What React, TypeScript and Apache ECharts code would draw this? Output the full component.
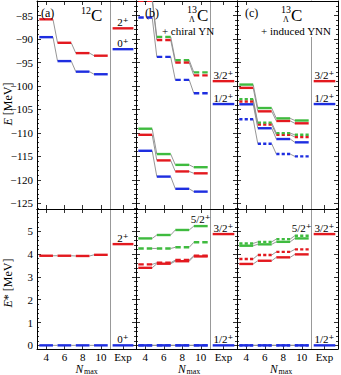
import { useEffect, useRef } from 'react';
import * as echarts from 'echarts';

// ---------- data ----------
const NMAX = [4, 6, 8, 10];
const E_TICKS = [-125, -120, -115, -110, -105, -100, -95, -90, -85];
const EX_TICKS = [0, 1, 2, 3, 4, 5];
const EXP_TICK = [0.5];

// (a) 12C
const A_GS = [-89.6, -94.7, -96.95, -97.5];
const A_2P = [-85.8, -90.8, -93.0, -93.55];
const A_EX_GS = [0, 0, 0, 0];
const A_EX_2P = [3.93, 3.93, 3.92, 3.97];
const EXP12_E = [-92.16, -87.72];
const EXP12_EX = [0, 4.44];
const EXP12_LABELS = ['0⁺', '2⁺'];

// (b) 13ΛC + chiral YN
const B_SOLID_12 = [-113.8, -119.3, -121.9, -122.5];
const B_SOLID_32 = [-110.4, -115.85, -118.2, -118.6];
const B_SOLID_52 = [-109.1, -114.5, -116.8, -117.3];
const B_DASH_12 = [-85.4, -93.8, -98.7, -101.55];
const B_DASH_32 = [-81.85, -90.2, -95.0, -97.75];
const B_DASH_52 = [-81.15, -89.55, -94.5, -97.1];
const B_EX_12 = [0, 0, 0, 0];
const B_EX_SOLID_32 = [3.4, 3.58, 3.69, 3.9];
const B_EX_DASH_32 = [3.55, 3.62, 3.74, 3.93];
const B_EX_SOLID_52 = [4.69, 4.84, 5.06, 5.23];
const B_EX_DASH_52 = [4.25, 4.25, 4.3, 4.52];

// (c) 13ΛC + induced YNN
const C_SOLID_12 = [-103.9, -109.0, -111.3, -112.0];
const C_SOLID_32 = [-100.4, -105.4, -107.45, -107.95];
const C_SOLID_52 = [-99.7, -104.7, -106.9, -107.35];
const C_DOT_12 = [-107.1, -112.3, -114.5, -115.0];
const C_DOT_32 = [-103.3, -108.2, -110.4, -110.85];
const C_DOT_52 = [-102.8, -107.8, -110.05, -110.4];
const C_EX_12 = [0, 0, 0, 0];
const C_EX_SOLID_32 = [3.57, 3.71, 3.86, 3.99];
const C_EX_DOT_32 = [3.79, 3.96, 4.1, 4.21];
const C_EX_SOLID_52 = [4.37, 4.43, 4.54, 4.69];
const C_EX_DOT_52 = [4.47, 4.54, 4.66, 4.81];

const EXP13_E = [-103.85, -98.97];
const EXP13_EX = [0, 4.88];
const EXP13_LABELS = ['1/2⁺', '3/2⁺'];
const LABEL_52 = '5/2⁺';

// ---------- style ----------
const SERIF = '"Liberation Serif", "DejaVu Serif", serif';
const RED = '#e3191f';
const BLUE = '#1e2ee0';
const GREEN = '#3fbb3f';
const CONN = '#8a8a8a';
const DIV = '#999999';
const BAR_W = 2.4;

const COLS = [
  { dl: 37, dw: 73, el: 110, ew: 26 },
  { dl: 136, dw: 74, el: 210, ew: 27 },
  { dl: 237, dw: 74, el: 311, ew: 27 },
];
const ROWS = [
  { top: 1, height: 208, min: -126.2, max: -81.9 },
  { top: 209, height: 140, min: -0.16, max: 5.98 },
];

function minorTicks(r: number): number[] {
  const out: number[] = [];
  if (r === 0) {
    for (let v = -126; v <= -82; v++) if (v % 5 !== 0) out.push(v);
  } else {
    for (let k = 1; k < 30; k++) if (k % 5 !== 0) out.push(Math.round(k * 0.2 * 100) / 100);
  }
  return out;
}

const fmtNum = (v: number) => (v < 0 ? '−' + Math.abs(v) : String(v));

function xAxisDef(gridIndex: number, position: string, min: number, max: number, ticks: number[], fmt: any) {
  return {
    type: 'value', gridIndex, position, min, max,
    axisLine: { show: true, onZero: false, lineStyle: { color: '#000', width: 1 } },
    axisTick: { show: true, inside: true, length: 4, customValues: ticks, lineStyle: { color: '#000', width: 0.8 } },
    axisLabel: fmt
      ? { show: true, customValues: ticks, formatter: fmt, margin: 2, color: '#000', fontFamily: SERIF, fontSize: 11 }
      : { show: false },
    splitLine: { show: false },
  };
}

function yAxisDef(gridIndex: number, position: string, row: any, opts: any) {
  return {
    type: 'value', gridIndex, position, min: row.min, max: row.max,
    axisLine: opts.line ? { show: true, onZero: false, lineStyle: { color: opts.line, width: 1 } } : { show: false, onZero: false },
    axisTick: opts.ticks
      ? { show: true, inside: true, length: opts.len, customValues: opts.ticks, lineStyle: { color: '#000', width: 0.8 } }
      : { show: false },
    axisLabel: opts.labels
      ? { show: true, customValues: opts.labels, formatter: fmtNum, margin: 4, color: '#000', fontFamily: SERIF, fontSize: 11 }
      : { show: false },
    splitLine: { show: false },
  };
}

function levelSeries(ref: any, ys: number[], color: string, style: string) {
  const hw = 0.75;
  const data = NMAX.map((x, i) => [x, ys[i]]);
  const n = data.length;
  const conn = {
    type: 'custom', xAxisIndex: ref.x, yAxisIndex: ref.y, clip: true, z: 2, silent: true,
    data, encode: { x: 0, y: 1 },
    renderItem: (params: any, api: any) => {
      const i = params.dataIndex;
      if (i >= n - 1) return null;
      const a = api.coord([data[i][0] + hw, data[i][1]]);
      const b = api.coord([data[i + 1][0] - hw, data[i + 1][1]]);
      return { type: 'line', shape: { x1: a[0], y1: a[1], x2: b[0], y2: b[1] }, style: { stroke: CONN, lineWidth: 0.9 } };
    },
  };
  const bars = {
    type: 'custom', xAxisIndex: ref.x, yAxisIndex: ref.y, clip: true, z: 3, silent: true,
    data, encode: { x: 0, y: 1 },
    renderItem: (params: any, api: any) => {
      const x = api.value(0);
      const y = api.value(1);
      const p1 = api.coord([x - hw, y]);
      const p2 = api.coord([x + hw, y]);
      const L = p2[0] - p1[0];
      let lineDash: any = null;
      if (style === 'dash') {
        const gap = 3;
        lineDash = [(L - gap) / 2, gap];
      } else if (style === 'dot') {
        const gap = 2.2;
        lineDash = [(L - 2 * gap) / 3, gap];
      }
      return {
        type: 'line',
        shape: { x1: p1[0], y1: p1[1], x2: p2[0], y2: p2[1] },
        style: { stroke: color, lineWidth: BAR_W, lineDash, lineCap: 'butt' },
      };
    },
  };
  return [conn, bars];
}

function expSeries(ref: any, ys: number[], colors: string[], labels: string[]) {
  const data = ys.map((y) => [0.5, y]);
  return {
    type: 'custom', xAxisIndex: ref.x, yAxisIndex: ref.y, clip: false, z: 3, silent: true,
    data, encode: { x: 0, y: 1 },
    renderItem: (params: any, api: any) => {
      const i = params.dataIndex;
      const y = api.value(1);
      const p1 = api.coord([0.1, y]);
      const p2 = api.coord([0.9, y]);
      return {
        type: 'group',
        children: [
          { type: 'line', shape: { x1: p1[0], y1: p1[1], x2: p2[0], y2: p2[1] }, style: { stroke: colors[i], lineWidth: BAR_W } },
          {
            type: 'text', x: (p1[0] + p2[0]) / 2, y: p1[1] - 6,
            style: { text: labels[i], fill: '#000', fontFamily: SERIF, fontSize: 11, align: 'center', verticalAlign: 'middle' },
          },
        ],
      };
    },
  };
}

function labelSeries(ref: any, x: number, y: number, text: string) {
  return {
    type: 'custom', xAxisIndex: ref.x, yAxisIndex: ref.y, clip: false, z: 4, silent: true,
    data: [[x, y]], encode: { x: 0, y: 1 },
    renderItem: (params: any, api: any) => {
      const p = api.coord([api.value(0), api.value(1)]);
      return {
        type: 'text', x: p[0], y: p[1] - 7.5,
        style: { text, fill: '#000', fontFamily: SERIF, fontSize: 11, align: 'center', verticalAlign: 'middle' },
      };
    },
  };
}

function buildOption() {
  const grids: any[] = [];
  const xAxes: any[] = [];
  const yAxes: any[] = [];
  const refs: Record<string, { x: number; y: number }> = {};

  ROWS.forEach((row, r) => {
    const majors = r === 0 ? E_TICKS : EX_TICKS;
    const minors = minorTicks(r);
    COLS.forEach((col, c) => {
      // data grid
      let gi = grids.length;
      grids.push({ left: col.dl, top: row.top, width: col.dw, height: row.height, outerBoundsMode: 'none' });
      let xi = xAxes.length;
      xAxes.push(xAxisDef(gi, 'bottom', 3, 11, NMAX, r === 1 ? (v: number) => String(v) : null));
      xAxes.push(xAxisDef(gi, 'top', 3, 11, NMAX, null));
      let yi = yAxes.length;
      yAxes.push(yAxisDef(gi, 'left', row, { line: '#000', ticks: majors, len: 4, labels: c === 0 ? majors : null }));
      yAxes.push(yAxisDef(gi, 'left', row, { line: null, ticks: minors, len: 2, labels: null }));
      yAxes.push(yAxisDef(gi, 'right', row, { line: DIV, ticks: null, labels: null }));
      refs[`d${r}${c}`] = { x: xi, y: yi };

      // exp grid
      gi = grids.length;
      grids.push({ left: col.el, top: row.top, width: col.ew, height: row.height, outerBoundsMode: 'none' });
      xi = xAxes.length;
      xAxes.push(xAxisDef(gi, 'bottom', 0, 1, EXP_TICK, r === 1 ? () => 'Exp' : null));
      xAxes.push(xAxisDef(gi, 'top', 0, 1, EXP_TICK, null));
      yi = yAxes.length;
      yAxes.push(yAxisDef(gi, 'left', row, { line: null, ticks: null, labels: null }));
      yAxes.push(yAxisDef(gi, 'right', row, { line: '#000', ticks: majors, len: 4, labels: null }));
      yAxes.push(yAxisDef(gi, 'right', row, { line: null, ticks: minors, len: 2, labels: null }));
      refs[`e${r}${c}`] = { x: xi, y: yi };
    });
  });

  const series: any[] = [
    // row 0 (total energies)
    ...levelSeries(refs.d00, A_GS, BLUE, 'solid'),
    ...levelSeries(refs.d00, A_2P, RED, 'solid'),
    ...levelSeries(refs.d01, B_SOLID_12, BLUE, 'solid'),
    ...levelSeries(refs.d01, B_SOLID_32, RED, 'solid'),
    ...levelSeries(refs.d01, B_SOLID_52, GREEN, 'solid'),
    ...levelSeries(refs.d01, B_DASH_12, BLUE, 'dash'),
    ...levelSeries(refs.d01, B_DASH_32, RED, 'dash'),
    ...levelSeries(refs.d01, B_DASH_52, GREEN, 'dash'),
    ...levelSeries(refs.d02, C_SOLID_12, BLUE, 'solid'),
    ...levelSeries(refs.d02, C_SOLID_32, RED, 'solid'),
    ...levelSeries(refs.d02, C_SOLID_52, GREEN, 'solid'),
    ...levelSeries(refs.d02, C_DOT_12, BLUE, 'dot'),
    ...levelSeries(refs.d02, C_DOT_32, RED, 'dot'),
    ...levelSeries(refs.d02, C_DOT_52, GREEN, 'dot'),
    expSeries(refs.e00, EXP12_E, [BLUE, RED], EXP12_LABELS),
    expSeries(refs.e01, EXP13_E, [BLUE, RED], EXP13_LABELS),
    expSeries(refs.e02, EXP13_E, [BLUE, RED], EXP13_LABELS),
    // row 1 (excitation energies)
    ...levelSeries(refs.d10, A_EX_GS, BLUE, 'solid'),
    ...levelSeries(refs.d10, A_EX_2P, RED, 'solid'),
    ...levelSeries(refs.d11, B_EX_12, BLUE, 'solid'),
    ...levelSeries(refs.d11, B_EX_12, BLUE, 'dash'),
    ...levelSeries(refs.d11, B_EX_SOLID_32, RED, 'solid'),
    ...levelSeries(refs.d11, B_EX_DASH_32, RED, 'dash'),
    ...levelSeries(refs.d11, B_EX_SOLID_52, GREEN, 'solid'),
    ...levelSeries(refs.d11, B_EX_DASH_52, GREEN, 'dash'),
    ...levelSeries(refs.d12, C_EX_12, BLUE, 'solid'),
    ...levelSeries(refs.d12, C_EX_12, BLUE, 'dot'),
    ...levelSeries(refs.d12, C_EX_SOLID_32, RED, 'solid'),
    ...levelSeries(refs.d12, C_EX_DOT_32, RED, 'dot'),
    ...levelSeries(refs.d12, C_EX_SOLID_52, GREEN, 'solid'),
    ...levelSeries(refs.d12, C_EX_DOT_52, GREEN, 'dot'),
    labelSeries(refs.d11, NMAX[3], B_EX_SOLID_52[3], LABEL_52),
    labelSeries(refs.d12, NMAX[3], C_EX_DOT_52[3], LABEL_52),
    expSeries(refs.e10, EXP12_EX, [BLUE, RED], EXP12_LABELS),
    expSeries(refs.e11, EXP13_EX, [BLUE, RED], EXP13_LABELS),
    expSeries(refs.e12, EXP13_EX, [BLUE, RED], EXP13_LABELS),
  ];

  const txt = (x: number, y: number, text: string, size: number, align = 'left', extra: any = {}) => ({
    type: 'text', x, y, z: 61,
    style: { text, fill: '#000', fontFamily: SERIF, fontSize: size, align, verticalAlign: 'middle', ...extra },
  });
  const nmaxLabel = (cx: number) => ({
    type: 'group', x: cx - 11, y: 368.5, z: 61,
    children: [
      { type: 'text', x: 0, y: 0, style: { text: 'N', fill: '#000', fontFamily: SERIF, fontSize: 11.5, fontStyle: 'italic', align: 'left', verticalAlign: 'middle' } },
      { type: 'text', x: 8.5, y: 2.5, style: { text: 'max', fill: '#000', fontFamily: SERIF, fontSize: 8, align: 'left', verticalAlign: 'middle' } },
    ],
  });

  const graphic: any[] = [
    // white box hiding divider behind the (c) title
    { type: 'rect', z: 60, shape: { x: 261, y: 2, width: 70, height: 35 }, style: { fill: '#fff' } },
    txt(41, 13, '(a)', 12),
    txt(91, 10, '12', 10, 'right'),
    txt(91, 15, 'C', 17),
    txt(145, 13, '(b)', 12),
    txt(197, 9.5, '13', 10, 'right'),
    txt(192, 19.5, 'Λ', 8, 'center'),
    txt(197, 15, 'C', 17),
    txt(188, 31, '+ chiral YN', 11, 'center'),
    txt(245, 13, '(c)', 12),
    txt(291, 9.5, '13', 10, 'right'),
    txt(286, 19.5, 'Λ', 8, 'center'),
    txt(291, 15, 'C', 17),
    txt(296, 31, '+ induced YNN', 11, 'center'),
    {
      type: 'text', x: 7.5, y: 104, rotation: Math.PI / 2, z: 61,
      style: {
        text: '{i|E} [MeV]', fill: '#000', fontFamily: SERIF, fontSize: 12, align: 'center', verticalAlign: 'middle',
        rich: { i: { fontStyle: 'italic', fontFamily: SERIF, fontSize: 12, fill: '#000' } },
      },
    },
    {
      type: 'text', x: 7.5, y: 283, rotation: Math.PI / 2, z: 61,
      style: {
        text: '{i|E}* [MeV]', fill: '#000', fontFamily: SERIF, fontSize: 12, align: 'center', verticalAlign: 'middle',
        rich: { i: { fontStyle: 'italic', fontFamily: SERIF, fontSize: 12, fill: '#000' } },
      },
    },
    nmaxLabel(86.5),
    nmaxLabel(189),
    nmaxLabel(281),
  ];

  return {
    animation: false,
    backgroundColor: '#fff',
    grid: grids,
    xAxis: xAxes,
    yAxis: yAxes,
    series,
    graphic,
  };
}

export default function App() {
  const ref = useRef<HTMLDivElement>(null);
  useEffect(() => {
    const chart = echarts.init(ref.current as HTMLDivElement, null, { renderer: 'svg' });
    chart.setOption(buildOption() as any);
    return () => chart.dispose();
  }, []);
  return (
    <div
      ref={ref}
      style={{ position: 'absolute', left: 0, top: 0, width: 341, height: 375, background: '#fff' }}
    />
  );
}
